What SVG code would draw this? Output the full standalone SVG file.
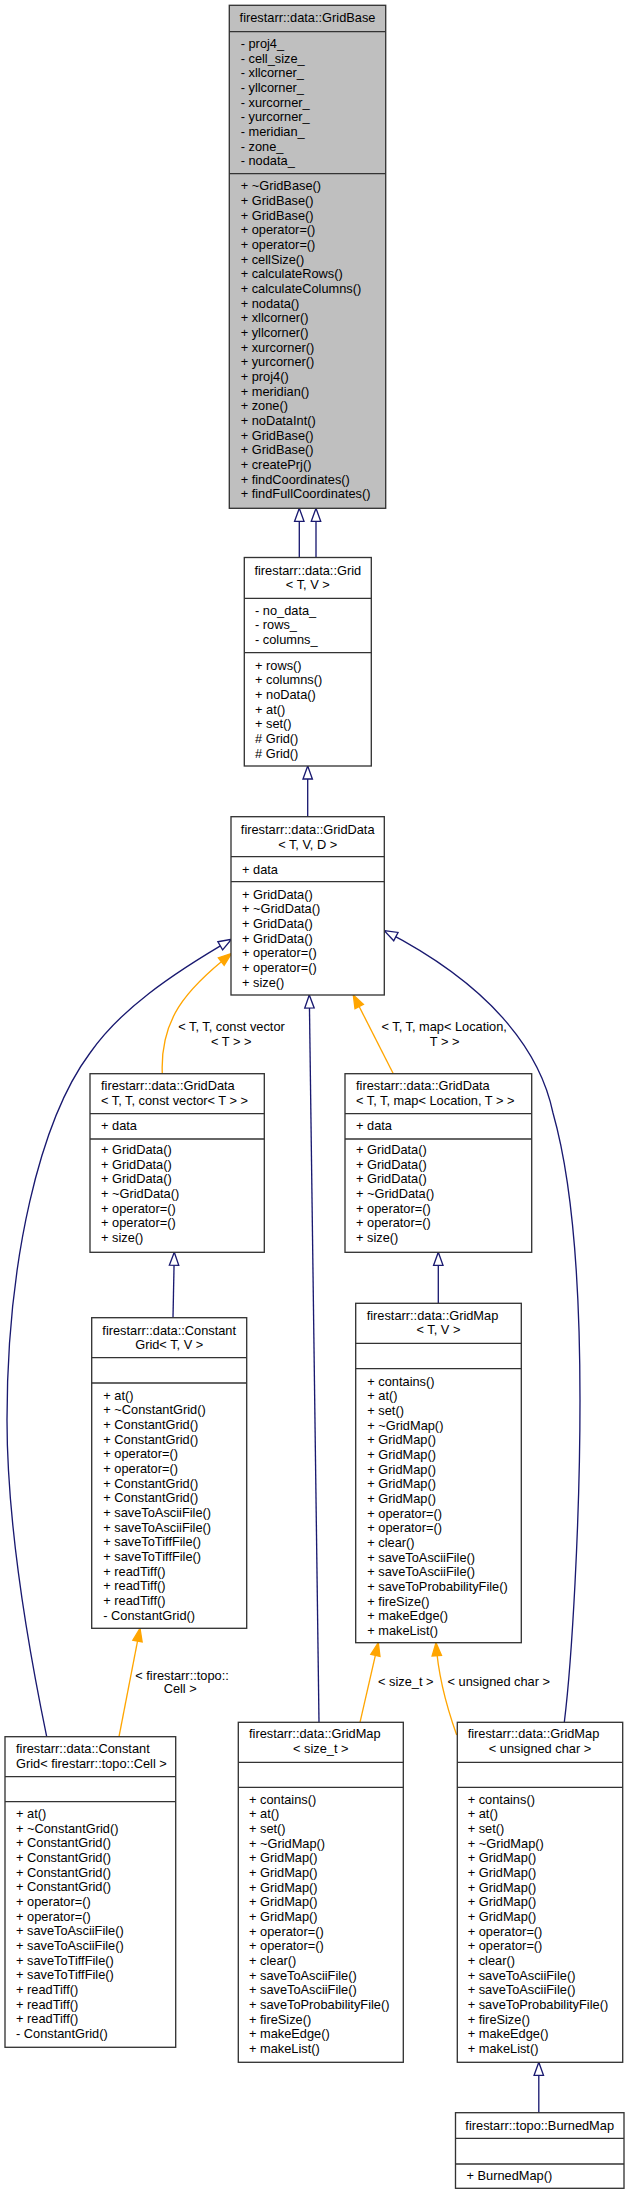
<svg xmlns="http://www.w3.org/2000/svg" width="629" height="2195" viewBox="0 0 629 2195">
<style>
text{font-family:"Liberation Sans",Arial,Helvetica,sans-serif;font-size:12.8px;fill:#000}
.c{text-anchor:middle}
.box{fill:#fff;stroke:#333;stroke-width:1.33}
.base{fill:#bfbfbf;stroke:#333;stroke-width:1.33}
.sep{stroke:#333;stroke-width:1.33}
.eb{fill:none;stroke:#191970;stroke-width:1.33}
.eo{fill:none;stroke:#ffa500;stroke-width:1.33}
</style>
<defs>
<marker id="inh" markerUnits="userSpaceOnUse" markerWidth="16" markerHeight="12" refX="13" refY="4.7" orient="auto" overflow="visible">
<path d="M0,0 L13,4.7 L0,9.4 Z" fill="#fff" stroke="#191970" stroke-width="1.33"/>
</marker>
<marker id="tpl" markerUnits="userSpaceOnUse" markerWidth="16" markerHeight="12" refX="13" refY="4.7" orient="auto" overflow="visible">
<path d="M0,0 L13,4.7 L0,9.4 Z" fill="#ffa500" stroke="#ffa500" stroke-width="1.33"/>
</marker>
</defs>
<rect width="629" height="2195" fill="#fff"/>

<g id="connectors">
<path class="eb" d="M299.3,557.5 L299.3,508.3" marker-end="url(#inh)"/>
<path class="eb" d="M316,557.5 L316,508.3" marker-end="url(#inh)"/>
<path class="eb" d="M307.7,816.7 L307.7,766" marker-end="url(#inh)"/>
<path class="eo" d="M162.3,1073.7 C160,1020 185,990 231.5,953.5" marker-end="url(#tpl)"/>
<text class="c" x="231.5" y="1031.3">&lt; T, T, const vector</text>
<text class="c" x="231.2" y="1045.6">&lt; T &gt; &gt;</text>
<path class="eo" d="M393.3,1073.7 L353.3,995" marker-end="url(#tpl)"/>
<text class="c" x="444.2" y="1031.3">&lt; T, T, map&lt; Location,</text>
<text class="c" x="444.7" y="1045.6">T &gt; &gt;</text>
<path class="eb" d="M319,1722.3 L309.3,995" marker-end="url(#inh)"/>
<path class="eb" d="M46.7,1736.7 C35,1680 7,1540 7,1420 C7,1260 40,1120 90,1053 C120,1010 170,975 231.5,939.3" marker-end="url(#inh)"/>
<path class="eb" d="M564.3,1722.3 C572,1660 580,1520 580,1400 C580,1280 572,1180 553,1113 C540,1050 490,985 384.3,930.7" marker-end="url(#inh)"/>
<path class="eb" d="M173,1317.7 L174.3,1252.3" marker-end="url(#inh)"/>
<path class="eb" d="M438.3,1303.3 L438.3,1252.3" marker-end="url(#inh)"/>
<path class="eo" d="M119,1736.7 L140,1628.3" marker-end="url(#tpl)"/>
<text class="c" x="182" y="1679.6">&lt; firestarr::topo::</text>
<text class="c" x="180.2" y="1692.9">Cell &gt;</text>
<path class="eo" d="M360,1722.3 L378.3,1642.7" marker-end="url(#tpl)"/>
<text class="c" x="405.8" y="1686.3">&lt; size_t &gt;</text>
<path class="eo" d="M456.7,1735 C446,1705 438,1675 436,1642.7" marker-end="url(#tpl)"/>
<text class="c" x="498.8" y="1686.3">&lt; unsigned char &gt;</text>
<path class="eb" d="M538.8,2112.7 L538.8,2062.3" marker-end="url(#inh)"/>
</g>

<g id="GridBase">
<rect class="base" x="229.3" y="5.3" width="156.4" height="503"/>
<line class="sep" x1="229.3" y1="31.7" x2="385.7" y2="31.7"/>
<line class="sep" x1="229.3" y1="173.7" x2="385.7" y2="173.7"/>
<text class="c" x="307.5" y="21.9">firestarr::data::GridBase</text>
<text x="240.7" y="47.9"><tspan x="240.7">- proj4_</tspan><tspan x="240.7" dy="14.67">- cell_size_</tspan><tspan x="240.7" dy="14.67">- xllcorner_</tspan><tspan x="240.7" dy="14.67">- yllcorner_</tspan><tspan x="240.7" dy="14.67">- xurcorner_</tspan><tspan x="240.7" dy="14.67">- yurcorner_</tspan><tspan x="240.7" dy="14.67">- meridian_</tspan><tspan x="240.7" dy="14.67">- zone_</tspan><tspan x="240.7" dy="14.67">- nodata_</tspan></text>
<text x="240.7" y="190.3"><tspan x="240.7">+ ~GridBase()</tspan><tspan x="240.7" dy="14.67">+ GridBase()</tspan><tspan x="240.7" dy="14.67">+ GridBase()</tspan><tspan x="240.7" dy="14.67">+ operator=()</tspan><tspan x="240.7" dy="14.67">+ operator=()</tspan><tspan x="240.7" dy="14.67">+ cellSize()</tspan><tspan x="240.7" dy="14.67">+ calculateRows()</tspan><tspan x="240.7" dy="14.67">+ calculateColumns()</tspan><tspan x="240.7" dy="14.67">+ nodata()</tspan><tspan x="240.7" dy="14.67">+ xllcorner()</tspan><tspan x="240.7" dy="14.67">+ yllcorner()</tspan><tspan x="240.7" dy="14.67">+ xurcorner()</tspan><tspan x="240.7" dy="14.67">+ yurcorner()</tspan><tspan x="240.7" dy="14.67">+ proj4()</tspan><tspan x="240.7" dy="14.67">+ meridian()</tspan><tspan x="240.7" dy="14.67">+ zone()</tspan><tspan x="240.7" dy="14.67">+ noDataInt()</tspan><tspan x="240.7" dy="14.67">+ GridBase()</tspan><tspan x="240.7" dy="14.67">+ GridBase()</tspan><tspan x="240.7" dy="14.67">+ createPrj()</tspan><tspan x="240.7" dy="14.67">+ findCoordinates()</tspan><tspan x="240.7" dy="14.67">+ findFullCoordinates()</tspan></text>
</g>

<g id="Grid">
<rect class="box" x="244.3" y="557.5" width="127" height="208.5"/>
<line class="sep" x1="244.3" y1="598.3" x2="371.3" y2="598.3"/>
<line class="sep" x1="244.3" y1="652.7" x2="371.3" y2="652.7"/>
<text class="c" x="307.8" y="574.6">firestarr::data::Grid</text>
<text class="c" x="307.8" y="589.3">&lt; T, V &gt;</text>
<text x="255" y="614.6"><tspan x="255">- no_data_</tspan><tspan x="255" dy="14.67">- rows_</tspan><tspan x="255" dy="14.67">- columns_</tspan></text>
<text x="255" y="669.6"><tspan x="255">+ rows()</tspan><tspan x="255" dy="14.67">+ columns()</tspan><tspan x="255" dy="14.67">+ noData()</tspan><tspan x="255" dy="14.67">+ at()</tspan><tspan x="255" dy="14.67">+ set()</tspan><tspan x="255" dy="14.67"># Grid()</tspan><tspan x="255" dy="14.67"># Grid()</tspan></text>
</g>

<g id="GridData">
<rect class="box" x="231" y="816.7" width="153.3" height="178.3"/>
<line class="sep" x1="231" y1="856.7" x2="384.3" y2="856.7"/>
<line class="sep" x1="231" y1="881.7" x2="384.3" y2="881.7"/>
<text class="c" x="307.7" y="833.9">firestarr::data::GridData</text>
<text class="c" x="307.7" y="848.6">&lt; T, V, D &gt;</text>
<text x="242" y="873.9">+ data</text>
<text x="242" y="898.6"><tspan x="242">+ GridData()</tspan><tspan x="242" dy="14.67">+ ~GridData()</tspan><tspan x="242" dy="14.67">+ GridData()</tspan><tspan x="242" dy="14.67">+ GridData()</tspan><tspan x="242" dy="14.67">+ operator=()</tspan><tspan x="242" dy="14.67">+ operator=()</tspan><tspan x="242" dy="14.67">+ size()</tspan></text>
</g>

<g id="GridDataVector">
<rect class="box" x="90" y="1073.7" width="174.3" height="178.6"/>
<line class="sep" x1="90" y1="1113.7" x2="264.3" y2="1113.7"/>
<line class="sep" x1="90" y1="1139" x2="264.3" y2="1139"/>
<text x="101" y="1090.3"><tspan x="101">firestarr::data::GridData</tspan><tspan x="101" dy="14.67">&lt; T, T, const vector&lt; T &gt; &gt;</tspan></text>
<text x="101" y="1130.3">+ data</text>
<text x="101" y="1153.9"><tspan x="101">+ GridData()</tspan><tspan x="101" dy="14.67">+ GridData()</tspan><tspan x="101" dy="14.67">+ GridData()</tspan><tspan x="101" dy="14.67">+ ~GridData()</tspan><tspan x="101" dy="14.67">+ operator=()</tspan><tspan x="101" dy="14.67">+ operator=()</tspan><tspan x="101" dy="14.67">+ size()</tspan></text>
</g>

<g id="GridDataMap">
<rect class="box" x="345" y="1073.7" width="186.7" height="178.6"/>
<line class="sep" x1="345" y1="1113.7" x2="531.7" y2="1113.7"/>
<line class="sep" x1="345" y1="1139" x2="531.7" y2="1139"/>
<text x="356" y="1090.3"><tspan x="356">firestarr::data::GridData</tspan><tspan x="356" dy="14.67">&lt; T, T, map&lt; Location, T &gt; &gt;</tspan></text>
<text x="356" y="1130.3">+ data</text>
<text x="356" y="1153.9"><tspan x="356">+ GridData()</tspan><tspan x="356" dy="14.67">+ GridData()</tspan><tspan x="356" dy="14.67">+ GridData()</tspan><tspan x="356" dy="14.67">+ ~GridData()</tspan><tspan x="356" dy="14.67">+ operator=()</tspan><tspan x="356" dy="14.67">+ operator=()</tspan><tspan x="356" dy="14.67">+ size()</tspan></text>
</g>

<g id="ConstantGridTV">
<rect class="box" x="91.7" y="1317.7" width="155" height="310.6"/>
<line class="sep" x1="91.7" y1="1357.7" x2="246.7" y2="1357.7"/>
<line class="sep" x1="91.7" y1="1383" x2="246.7" y2="1383"/>
<text class="c" x="169.2" y="1334.6">firestarr::data::Constant</text>
<text class="c" x="169.2" y="1349.3">Grid&lt; T, V &gt;</text>
<text x="103.3" y="1399.6"><tspan x="103.3">+ at()</tspan><tspan x="103.3" dy="14.67">+ ~ConstantGrid()</tspan><tspan x="103.3" dy="14.67">+ ConstantGrid()</tspan><tspan x="103.3" dy="14.67">+ ConstantGrid()</tspan><tspan x="103.3" dy="14.67">+ operator=()</tspan><tspan x="103.3" dy="14.67">+ operator=()</tspan><tspan x="103.3" dy="14.67">+ ConstantGrid()</tspan><tspan x="103.3" dy="14.67">+ ConstantGrid()</tspan><tspan x="103.3" dy="14.67">+ saveToAsciiFile()</tspan><tspan x="103.3" dy="14.67">+ saveToAsciiFile()</tspan><tspan x="103.3" dy="14.67">+ saveToTiffFile()</tspan><tspan x="103.3" dy="14.67">+ saveToTiffFile()</tspan><tspan x="103.3" dy="14.67">+ readTiff()</tspan><tspan x="103.3" dy="14.67">+ readTiff()</tspan><tspan x="103.3" dy="14.67">+ readTiff()</tspan><tspan x="103.3" dy="14.67">- ConstantGrid()</tspan></text>
</g>

<g id="GridMapTV">
<rect class="box" x="355.7" y="1303.3" width="165.6" height="339.4"/>
<line class="sep" x1="355.7" y1="1343.3" x2="521.3" y2="1343.3"/>
<line class="sep" x1="355.7" y1="1368.7" x2="521.3" y2="1368.7"/>
<text x="366.7" y="1319.6">firestarr::data::GridMap</text>
<text class="c" x="438.5" y="1334.3">&lt; T, V &gt;</text>
<text x="367.3" y="1385.6"><tspan x="367.3">+ contains()</tspan><tspan x="367.3" dy="14.67">+ at()</tspan><tspan x="367.3" dy="14.67">+ set()</tspan><tspan x="367.3" dy="14.67">+ ~GridMap()</tspan><tspan x="367.3" dy="14.67">+ GridMap()</tspan><tspan x="367.3" dy="14.67">+ GridMap()</tspan><tspan x="367.3" dy="14.67">+ GridMap()</tspan><tspan x="367.3" dy="14.67">+ GridMap()</tspan><tspan x="367.3" dy="14.67">+ GridMap()</tspan><tspan x="367.3" dy="14.67">+ operator=()</tspan><tspan x="367.3" dy="14.67">+ operator=()</tspan><tspan x="367.3" dy="14.67">+ clear()</tspan><tspan x="367.3" dy="14.67">+ saveToAsciiFile()</tspan><tspan x="367.3" dy="14.67">+ saveToAsciiFile()</tspan><tspan x="367.3" dy="14.67">+ saveToProbabilityFile()</tspan><tspan x="367.3" dy="14.67">+ fireSize()</tspan><tspan x="367.3" dy="14.67">+ makeEdge()</tspan><tspan x="367.3" dy="14.67">+ makeList()</tspan></text>
</g>

<g id="ConstantGridCell">
<rect class="box" x="5" y="1736.7" width="170.7" height="310.6"/>
<line class="sep" x1="5" y1="1776.7" x2="175.7" y2="1776.7"/>
<line class="sep" x1="5" y1="1801.7" x2="175.7" y2="1801.7"/>
<text x="16" y="1752.9"><tspan x="16">firestarr::data::Constant</tspan><tspan x="16" dy="14.67">Grid&lt; firestarr::topo::Cell &gt;</tspan></text>
<text x="16" y="1817.9"><tspan x="16">+ at()</tspan><tspan x="16" dy="14.67">+ ~ConstantGrid()</tspan><tspan x="16" dy="14.67">+ ConstantGrid()</tspan><tspan x="16" dy="14.67">+ ConstantGrid()</tspan><tspan x="16" dy="14.67">+ ConstantGrid()</tspan><tspan x="16" dy="14.67">+ ConstantGrid()</tspan><tspan x="16" dy="14.67">+ operator=()</tspan><tspan x="16" dy="14.67">+ operator=()</tspan><tspan x="16" dy="14.67">+ saveToAsciiFile()</tspan><tspan x="16" dy="14.67">+ saveToAsciiFile()</tspan><tspan x="16" dy="14.67">+ saveToTiffFile()</tspan><tspan x="16" dy="14.67">+ saveToTiffFile()</tspan><tspan x="16" dy="14.67">+ readTiff()</tspan><tspan x="16" dy="14.67">+ readTiff()</tspan><tspan x="16" dy="14.67">+ readTiff()</tspan><tspan x="16" dy="14.67">- ConstantGrid()</tspan></text>
</g>

<g id="GridMapSizeT">
<rect class="box" x="238.3" y="1722.3" width="165" height="340"/>
<line class="sep" x1="238.3" y1="1762.3" x2="403.3" y2="1762.3"/>
<line class="sep" x1="238.3" y1="1787.3" x2="403.3" y2="1787.3"/>
<text x="249" y="1737.9">firestarr::data::GridMap</text>
<text class="c" x="320.8" y="1752.6">&lt; size_t &gt;</text>
<text x="249" y="1803.6"><tspan x="249">+ contains()</tspan><tspan x="249" dy="14.67">+ at()</tspan><tspan x="249" dy="14.67">+ set()</tspan><tspan x="249" dy="14.67">+ ~GridMap()</tspan><tspan x="249" dy="14.67">+ GridMap()</tspan><tspan x="249" dy="14.67">+ GridMap()</tspan><tspan x="249" dy="14.67">+ GridMap()</tspan><tspan x="249" dy="14.67">+ GridMap()</tspan><tspan x="249" dy="14.67">+ GridMap()</tspan><tspan x="249" dy="14.67">+ operator=()</tspan><tspan x="249" dy="14.67">+ operator=()</tspan><tspan x="249" dy="14.67">+ clear()</tspan><tspan x="249" dy="14.67">+ saveToAsciiFile()</tspan><tspan x="249" dy="14.67">+ saveToAsciiFile()</tspan><tspan x="249" dy="14.67">+ saveToProbabilityFile()</tspan><tspan x="249" dy="14.67">+ fireSize()</tspan><tspan x="249" dy="14.67">+ makeEdge()</tspan><tspan x="249" dy="14.67">+ makeList()</tspan></text>
</g>

<g id="GridMapUChar">
<rect class="box" x="457.3" y="1722.3" width="165.4" height="340"/>
<line class="sep" x1="457.3" y1="1762.3" x2="622.7" y2="1762.3"/>
<line class="sep" x1="457.3" y1="1787.3" x2="622.7" y2="1787.3"/>
<text x="467.7" y="1737.9">firestarr::data::GridMap</text>
<text class="c" x="540" y="1752.6">&lt; unsigned char &gt;</text>
<text x="467.7" y="1803.6"><tspan x="467.7">+ contains()</tspan><tspan x="467.7" dy="14.67">+ at()</tspan><tspan x="467.7" dy="14.67">+ set()</tspan><tspan x="467.7" dy="14.67">+ ~GridMap()</tspan><tspan x="467.7" dy="14.67">+ GridMap()</tspan><tspan x="467.7" dy="14.67">+ GridMap()</tspan><tspan x="467.7" dy="14.67">+ GridMap()</tspan><tspan x="467.7" dy="14.67">+ GridMap()</tspan><tspan x="467.7" dy="14.67">+ GridMap()</tspan><tspan x="467.7" dy="14.67">+ operator=()</tspan><tspan x="467.7" dy="14.67">+ operator=()</tspan><tspan x="467.7" dy="14.67">+ clear()</tspan><tspan x="467.7" dy="14.67">+ saveToAsciiFile()</tspan><tspan x="467.7" dy="14.67">+ saveToAsciiFile()</tspan><tspan x="467.7" dy="14.67">+ saveToProbabilityFile()</tspan><tspan x="467.7" dy="14.67">+ fireSize()</tspan><tspan x="467.7" dy="14.67">+ makeEdge()</tspan><tspan x="467.7" dy="14.67">+ makeList()</tspan></text>
</g>

<g id="BurnedMap">
<rect class="box" x="455.5" y="2112.7" width="168.5" height="75.6"/>
<line class="sep" x1="455.5" y1="2138.3" x2="624" y2="2138.3"/>
<line class="sep" x1="455.5" y1="2164" x2="624" y2="2164"/>
<text class="c" x="539.7" y="2129.6">firestarr::topo::BurnedMap</text>
<text x="466.5" y="2179.6">+ BurnedMap()</text>
</g>
</svg>
